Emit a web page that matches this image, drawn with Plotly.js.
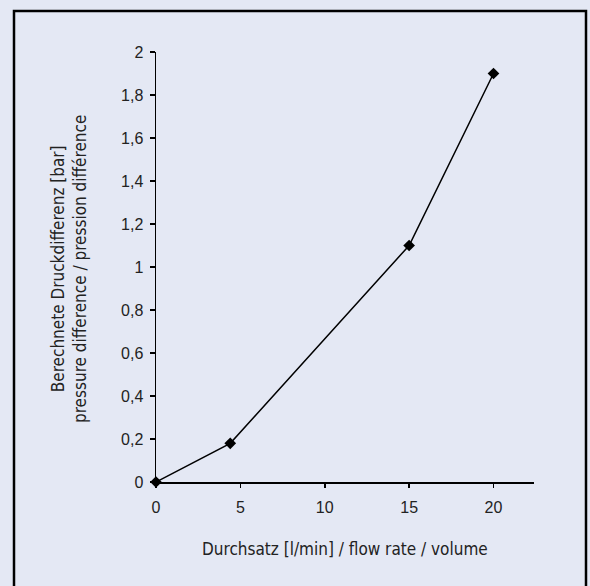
<!DOCTYPE html>
<html>
<head>
<meta charset="utf-8">
<script src="https://cdn.plot.ly/plotly-3.0.1.min.js"></script>
<style>html,body{margin:0;padding:0;background:#e4e8f4;}</style>
</head>
<body>
<div id="chart" style="width:590px;height:586px;"></div>
<script>
const flowRate = [0, 4.4, 15, 20];
const pressureDiff = [0, 0.18, 1.1, 1.9];
const xTitle = 'Durchsatz [l/min] / flow rate / volume';
const yTitleLines = ['Berechnete Druckdifferenz [bar]', 'pressure difference / pression différence'];

const W = 590, H = 586, L = 156, R = 56, T = 52, B = 104;
const pw = W - L - R, ph = H - T - B;
const px = v => (v - L) / pw;
const py = v => (H - B - v) / ph;

const titleFont = {family: '"DejaVu Sans Condensed", "Liberation Sans Narrow", Arial, sans-serif', size: 17, color: '#222'};

Plotly.newPlot('chart', [{
  x: flowRate, y: pressureDiff, type: 'scatter', mode: 'lines+markers',
  line: {color: '#000', width: 1.5},
  marker: {symbol: 'diamond', size: 9, color: '#000'},
  cliponaxis: false, hoverinfo: 'none'
}], {
  width: W, height: H,
  margin: {l: L, r: R, t: T, b: B, pad: 0},
  paper_bgcolor: '#e4e8f4', plot_bgcolor: 'rgba(0,0,0,0)',
  separators: ',.',
  showlegend: false,
  font: {family: 'Arial, "Liberation Sans", sans-serif', size: 16, color: '#222'},
  xaxis: {
    range: [0, 22.4], tickvals: [0, 5, 10, 15, 20], ticks: 'outside', ticklen: 4, tickwidth: 1.5,
    ticklabelstandoff: 6,
    tickcolor: '#000', showline: true, linecolor: '#000', linewidth: 1.5, showgrid: false, zeroline: false,
    fixedrange: true
  },
  yaxis: {
    range: [0, 2], dtick: 0.2, tick0: 0, ticks: 'outside', ticklen: 5, tickwidth: 1.5,
    ticklabelstandoff: 3,
    tickcolor: '#000', showline: true, linecolor: '#000', linewidth: 1.5, showgrid: false, zeroline: false,
    fixedrange: true
  },
  annotations: [
    {text: xTitle, xref: 'paper', yref: 'paper', x: px(345), y: py(549), xanchor: 'center', yanchor: 'middle',
     showarrow: false, font: titleFont},
    {text: yTitleLines.join('<br>'), xref: 'paper', yref: 'paper', x: px(69), y: py(269), xanchor: 'center', yanchor: 'middle',
     textangle: -90, showarrow: false, font: titleFont}
  ],
  shapes: [
    {type: 'rect', xref: 'paper', yref: 'paper', x0: px(14), x1: px(586), y0: py(620), y1: py(11),
     line: {color: '#000', width: 2.5}, fillcolor: 'rgba(0,0,0,0)', layer: 'below'}
  ]
}, {staticPlot: true});
</script>
</body>
</html>
